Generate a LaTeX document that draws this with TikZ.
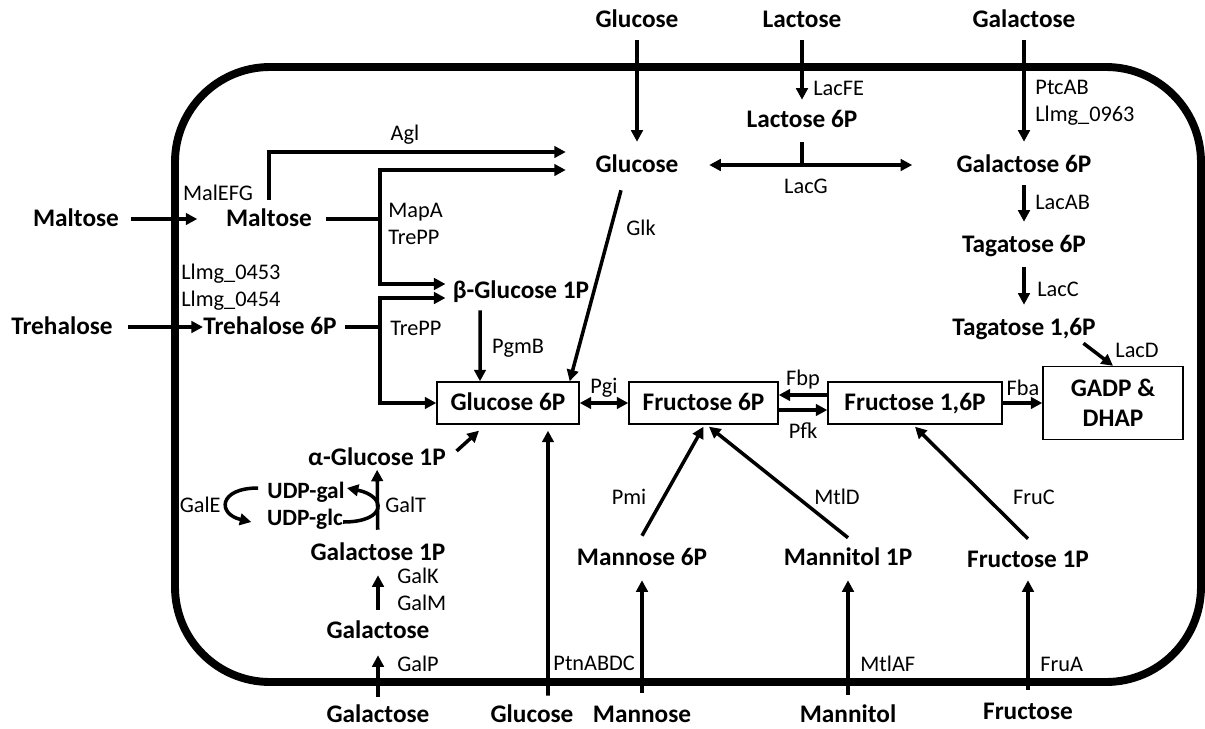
\documentclass[tikz,border=0pt]{standalone}
\usepackage{fontspec}
\setmainfont{Carlito}
\usetikzlibrary{arrows.meta}

\begin{document}
\begin{tikzpicture}[x=0.02cm, y=-0.02cm,
  sugar/.style={font=\fontsize{14.4}{17}\selectfont\bfseries, inner sep=0pt, text height=11pt, text depth=2pt},
  udp/.style={sugar, font=\fontsize{13.3}{16}\selectfont\bfseries},
  enz/.style={font=\fontsize{12.7}{15}\selectfont, inner sep=0pt, text height=9.5pt, text depth=1.3pt},
  box/.style={draw, line width=0.8pt, minimum height=8.4mm},
  line/.style={line width=2pt},
  arr/.style={line width=2pt, -{Triangle[length=2.3mm, width=2.3mm]}},
  darr/.style={line width=2pt, {Triangle[length=2.3mm, width=2.3mm]}-{Triangle[length=2.3mm, width=2.3mm]}}]
\useasboundingbox (0,0) rectangle (1205,728);
\draw[line width=4.5pt, rounded corners=19mm] (175,67) rectangle (1201,682);

\node[sugar] (glcTop) at (637,20) {Glucose};
\node[sugar] (lacTop) at (802,20) {Lactose};
\node[sugar] (galTop) at (1024,20) {Galactose};
\node[sugar] (maltOut) at (76,219) {Maltose};
\node[sugar] (treOut) at (62,327) {Trehalose};
\node[sugar] (galBot) at (378,715) {Galactose};
\node[sugar] (glcBot) at (532,715) {Glucose};
\node[sugar] (manBot) at (642,715) {Mannose};
\node[sugar] (mtlBot) at (848,715) {Mannitol};
\node[sugar] (fruBot) at (1028,712) {Fructose};

\node[sugar] (glcIn) at (637,165) {Glucose};
\node[sugar] (lac6P) at (802,120) {Lactose 6P};
\node[sugar] (gal6P) at (1024,165) {Galactose 6P};
\node[sugar] (tag6P) at (1024,245) {Tagatose 6P};
\node[sugar] (tag16P) at (1024,328) {Tagatose 1,6P};
\node[sugar] (malt) at (269,219) {Maltose};
\node[sugar] (tre6P) at (270,327) {Trehalose 6P};
\node[sugar] (b1P) at (521,291) {β-Glucose 1P};
\node[sugar] (a1P) at (377,458) {α-Glucose 1P};
\node[udp] (udpGal) at (306,491) {UDP-gal};
\node[udp] (udpGlc) at (305,518) {UDP-glc};
\node[sugar] (gal1P) at (378,553) {Galactose 1P};
\node[sugar] (galIn) at (378,631) {Galactose};
\node[sugar] (man6P) at (642,558) {Mannose 6P};
\node[sugar] (mtl1P) at (848,558) {Mannitol 1P};
\node[sugar] (fru1P) at (1028,560) {Fructose 1P};
\node[box, sugar, minimum width=28.4mm] (g6P) at (508,403) {Glucose 6P};
\node[box, sugar, minimum width=29.8mm] (f6P) at (703.5,403) {Fructose 6P};
\node[box, sugar, minimum width=34.8mm] (f16P) at (915,403) {Fructose 1,6P};
\node[box, font=\fontsize{14.4}{17}\selectfont\bfseries, align=center, minimum width=28mm, minimum height=14.6mm] (gadp) at (1113,403) {GADP \&\\DHAP};

\node[enz] (agl) at (405,133) {Agl};
\node[enz] (malEFG) at (218,193) {MalEFG};
\node[enz, anchor=west] (mapA) at (388,210) {MapA};
\node[enz, anchor=west] (trePPa) at (388,237) {TrePP};
\node[enz, anchor=west] (l453) at (181,272) {Llmg\_0453};
\node[enz, anchor=west] (l454) at (181,299) {Llmg\_0454};
\node[enz, anchor=west] (trePPb) at (390,328) {TrePP};
\node[enz, anchor=west] (glk) at (626,228) {Glk};
\node[enz, anchor=west] (lacFE) at (813,88) {LacFE};
\node[enz] (lacG) at (806,186) {LacG};
\node[enz, anchor=west] (ptcAB) at (1035,87) {PtcAB};
\node[enz, anchor=west] (l963) at (1035,114) {Llmg\_0963};
\node[enz, anchor=west] (lacAB) at (1035,202) {LacAB};
\node[enz, anchor=west] (lacC) at (1037,289) {LacC};
\node[enz] (lacD) at (1137,350) {LacD};
\node[enz] (fba) at (1023,388) {Fba};
\node[enz] (fbp) at (803,378) {Fbp};
\node[enz] (pfk) at (803,431) {Pfk};
\node[enz] (pgi) at (604,386) {Pgi};
\node[enz] (pgmB) at (518,346) {PgmB};
\node[enz, anchor=west] (galT) at (385,505) {GalT};
\node[enz, anchor=east] (galE) at (221,505) {GalE};
\node[enz, anchor=west] (galK) at (397,576) {GalK};
\node[enz, anchor=west] (galM) at (397,603) {GalM};
\node[enz, anchor=west] (galP) at (397,664) {GalP};
\node[enz, anchor=west] (ptn) at (553,663) {PtnABDC};
\node[enz] (pmi) at (629,497) {Pmi};
\node[enz] (mtlD) at (837,497) {MtlD};
\node[enz, anchor=west] (mtlAF) at (860,664) {MtlAF};
\node[enz] (fruC) at (1034,497) {FruC};
\node[enz, anchor=west] (fruA) at (1040,664) {FruA};

\draw[arr, shorten <=1.7mm, shorten >=2.3mm] (glcTop) -- (glcIn);
\draw[arr, shorten <=1.7mm, shorten >=1.7mm] (lacTop) -- (lac6P);
\draw[arr, shorten <=1.7mm, shorten >=2.3mm] (galTop) -- (gal6P);
\draw[line, shorten <=2.1mm] (lac6P) -- (lac6P |- glcIn);
\draw[darr, shorten <=6.1mm, shorten >=8.8mm] (glcIn) -- (gal6P);
\draw[arr, shorten <=1.7mm, shorten >=2.3mm] (gal6P) -- (tag6P);
\draw[arr, shorten <=2.1mm, shorten >=2.3mm] (tag6P) -- (tag16P);
\draw[arr] ([xshift=-2.5mm, yshift=-0.7mm]tag16P.south east) -- (gadp.north);
\draw[arr] (f16P) -- (gadp);
\draw[arr] ([yshift=1.6mm]f16P.west) -- ([yshift=1.6mm]f6P.east);
\draw[arr] ([yshift=-1.4mm]f6P.east) -- ([yshift=-1.4mm]f16P.west);
\draw[darr] (g6P) -- (f6P);
\draw[arr] ([xshift=-3.2mm, yshift=-2.7mm]glcIn.south) -- ([xshift=-2mm]g6P.north east);
\draw[arr] ([xshift=-8.2mm, yshift=-1.5mm]b1P.south) -- ([xshift=-5.6mm]g6P.north);
\draw[arr] ([xshift=2.1mm, yshift=1.4mm]a1P.east) -- ([xshift=-5.8mm, yshift=-1.2mm]g6P.south);
\draw[arr] ([xshift=3.2mm, yshift=1.5mm]glcBot.north) -- ([xshift=8mm, yshift=-1.2mm]g6P.south);
\draw[arr, shorten <=2.1mm, shorten >=2.1mm] (manBot) -- (man6P);
\draw[arr] ([yshift=2.1mm]man6P.north) -- ([yshift=-0.4mm]f6P.south);
\draw[arr, shorten <=1.7mm, shorten >=2.1mm] (mtlBot) -- (mtl1P);
\draw[arr] ([yshift=1.7mm]mtl1P.north) -- ([xshift=1.1mm, yshift=-0.4mm]f6P.south);
\draw[arr, shorten <=2.1mm, shorten >=1.7mm] (fruBot) -- (fru1P);
\draw[arr] ([yshift=1.9mm]fru1P.north) -- ([yshift=-0.4mm]f16P.south);

\draw[arr, shorten <=2.3mm, shorten >=5.7mm] (maltOut) -- (malt);
\draw[arr, shorten <=3mm] (treOut) -- (tre6P);
\draw[arr, shorten >=5.9mm] ([yshift=1.5mm]malt.north) |- ([yshift=2.6mm]glcIn.west);
\coordinate (jM) at (380,219);
\draw[line] ([xshift=2.7mm]malt.east) -- (jM);
\draw[arr, shorten >=5.9mm] (jM) |- ([yshift=-1mm]glcIn.west);
\draw[arr, shorten >=1.4mm] (jM) |- ([yshift=1.4mm]b1P.west);
\coordinate (jT) at (380,327);
\draw[line] ([xshift=1.6mm]tre6P.east) -- (jT);
\draw[arr, shorten >=1.4mm] (jT) |- ([yshift=-1.4mm]b1P.west);
\draw[arr] (jT) |- (g6P.west);

\draw[arr, shorten <=1.3mm, shorten >=2.5mm] (galBot) -- (galIn);
\draw[arr, shorten <=1.9mm, shorten >=2.1mm] (galIn) -- (gal1P);
\draw[arr, shorten <=2.3mm] (gal1P) -- (a1P);
\draw[arr] ([yshift=-0.8mm]udpGlc.east) .. controls +(44,0) and +(40,8) .. ([xshift=0.4mm, yshift=0.6mm]udpGal.east);
\draw[arr] ([xshift=-1.8mm, yshift=0.6mm]udpGal.west) .. controls +(-40,0) and +(-34,-8) .. ([xshift=-3.1mm, yshift=-0.8mm]udpGlc.west);
\end{tikzpicture}
\end{document}
